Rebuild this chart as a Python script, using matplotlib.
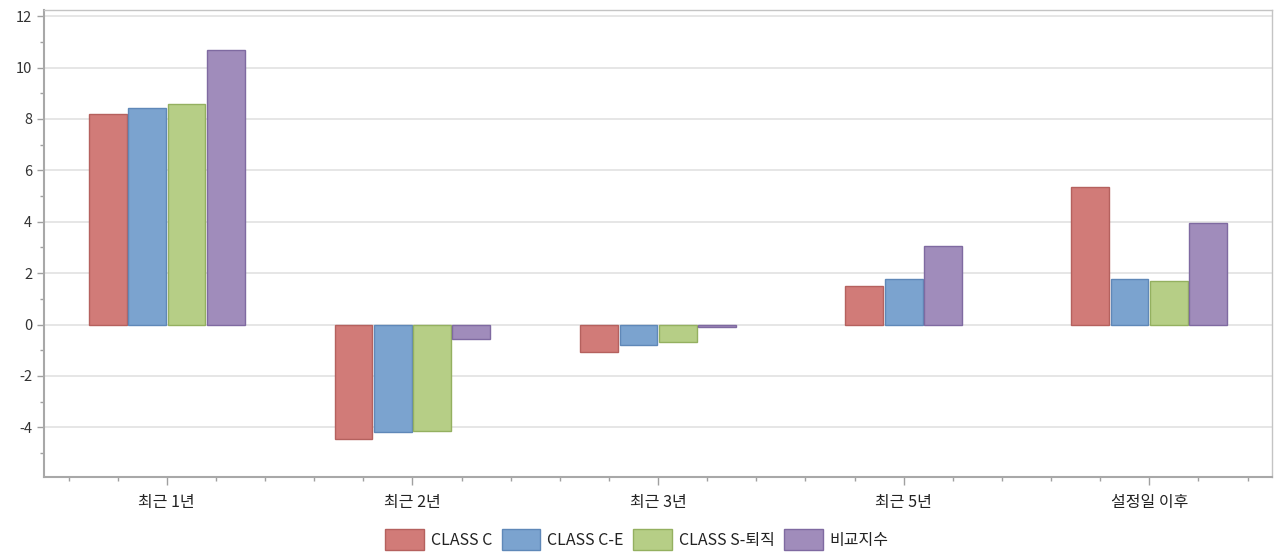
import numpy as np
import matplotlib
matplotlib.use("Agg")
import matplotlib.pyplot as plt
from matplotlib.patches import Patch
from matplotlib.ticker import MultipleLocator

plt.rcParams['font.family'] = ['Noto Sans CJK KR', 'DejaVu Sans']
plt.rcParams['axes.unicode_minus'] = False

# data
categories = ['최근 1년', '최근 2년', '최근 3년', '최근 5년', '설정일 이후']
series_names = ['CLASS C', 'CLASS C-E', 'CLASS S-퇴직', '비교지수']
class_c = [8.18, -4.46, -1.07, 1.50, 5.37]
class_ce = [8.44, -4.20, -0.81, 1.76, 1.76]
class_s = [8.57, -4.13, -0.68, np.nan, 1.68]
bench = [10.68, -0.55, -0.09, 3.04, 3.96]

fills = ['#d17b78', '#7ba3cf', '#b6ce86', '#a08cbb']
edges = ['#b5615e', '#5f88b8', '#94b060', '#7f6aa1']

values = np.array([class_c, class_ce, class_s, bench])

fig = plt.figure(figsize=(12.74, 5.52), dpi=100)
ax = fig.add_axes([0.0345, 0.136, 0.964, 0.846])

bar_w = 0.16
for g in range(len(categories)):
    present = [s for s in range(len(series_names)) if not np.isnan(values[s, g])]
    n = len(present)
    for k, s in enumerate(present):
        xpos = g + (k - (n - 1) / 2) * bar_w
        ax.bar(xpos, values[s, g], width=bar_w * 0.96, color=fills[s],
               edgecolor=edges[s], linewidth=1.0, zorder=3)

ax.set_xlim(-0.5, len(categories) - 0.5)
ax.set_ylim(-5.93, 12.24)
ax.set_xticks(range(len(categories)))
ax.set_xticklabels(categories, fontsize=11.5, color='#222222')
ax.xaxis.set_minor_locator(MultipleLocator(0.2))
ax.set_yticks(range(-4, 13, 2))
ax.yaxis.set_minor_locator(MultipleLocator(1))
ax.tick_params(axis='y', labelsize=10.5, labelcolor='#333333', color='#a0a0a0', length=5, width=1)
ax.tick_params(axis='y', which='minor', color='#a0a0a0', length=3, width=1)
ax.tick_params(axis='x', color='#a0a0a0', length=6, width=1, pad=6)
ax.tick_params(axis='x', which='minor', color='#a0a0a0', length=3, width=1)

ax.grid(axis='y', color='#e2e2e2', linewidth=1.2, zorder=0)
for side in ['left', 'bottom']:
    ax.spines[side].set_color('#a8a8a8')
    ax.spines[side].set_linewidth(1.5)
for side in ['top', 'right']:
    ax.spines[side].set_color('#c4c4c4')
    ax.spines[side].set_linewidth(1.0)

handles = [Patch(facecolor=fills[i], edgecolor=edges[i], label=series_names[i])
           for i in range(len(series_names))]
fig.legend(handles=handles, loc='lower center', bbox_to_anchor=(0.5, -0.022), ncol=4,
           frameon=False, fontsize=11.5, handlelength=2.4, handleheight=1.6,
           handletextpad=0.45, columnspacing=0.6, labelcolor='#222222')

fig.savefig('out.png', dpi=100)
